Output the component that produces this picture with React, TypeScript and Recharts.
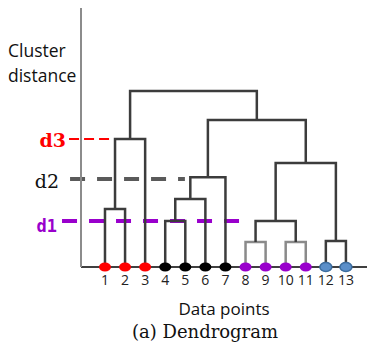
import React from 'react';
import { ComposedChart, Line, Scatter, XAxis, YAxis, ReferenceLine } from 'recharts';

// leaves of the dendrogram, left to right
const leafLabels = ['1', '2', '3', '4', '5', '6', '7', '8', '9', '10', '11', '12', '13'];
const leafCluster = [0, 0, 0, 1, 1, 1, 1, 2, 2, 2, 2, 3, 3];

// linkage rows: [left node, right node, merge distance]
// leaves are nodes 1..13, each row creates node 14, 15, ...
const linkage: [number, number, number][] = [
  [1, 2, 2.24],
  [4, 5, 1.78],
  [8, 9, 0.97],
  [10, 11, 0.97],
  [12, 13, 1.0],
  [15, 6, 2.63],
  [16, 17, 1.78],
  [14, 3, 4.94],
  [19, 7, 3.47],
  [20, 18, 4.02],
  [22, 23, 5.68],
  [21, 24, 6.8],
];

const thresholdNames = ['d1', 'd2', 'd3'];
const thresholdValues = [1.78, 3.4, 4.94];

const clusterColors = ['#ff0000', '#000000', '#9900cc', '#5b8fc9'];
const lightLinks = [16, 17];

const thresholdStyles = [
  { color: '#9900cc', width: 4, dash: '15 12', from: -1.14, to: 7.7, font: '"DejaVu Sans Mono", monospace', weight: 700, size: 17, dx: -5, dy: 11, fill: '#9900cc' },
  { color: '#5a5a5a', width: 4, dash: '15 12', from: -0.74, to: 4.98, font: '"DejaVu Serif", serif', weight: 400, size: 19, dx: -11, dy: 9, fill: '#111' },
  { color: '#ff0000', width: 2, dash: '10 5', from: -0.79, to: 1.45, font: '"DejaVu Serif", serif', weight: 700, size: 19, dx: -3, dy: 8, fill: '#ff0000' },
];

const nodeX: Record<number, number> = {};
const nodeH: Record<number, number> = {};
leafLabels.forEach((_, i) => {
  nodeX[i + 1] = i + 1;
  nodeH[i + 1] = 0;
});
const links = linkage.map(([a, b, h], i) => {
  const id = leafLabels.length + 1 + i;
  nodeX[id] = (nodeX[a] + nodeX[b]) / 2;
  nodeH[id] = h;
  return {
    id,
    points: [
      { x: nodeX[a], y: nodeH[a] },
      { x: nodeX[a], y: h },
      { x: nodeX[b], y: h },
      { x: nodeX[b], y: nodeH[b] },
    ],
  };
});

const leaves = leafLabels.map((_, i) => ({ x: i + 1, y: 0, cluster: leafCluster[i] }));

const LeafDot = (props: any) => {
  const { cx, cy, payload } = props;
  const c = clusterColors[payload.cluster];
  return (
    <ellipse
      cx={cx}
      cy={cy}
      rx={6}
      ry={4.5}
      fill={c}
      stroke={payload.cluster === 3 ? '#3d6d9e' : c}
      strokeWidth={payload.cluster === 3 ? 1.5 : 0}
    />
  );
};

const App = () => {
  return (
    <div style={{ position: 'absolute', left: 0, top: 0, width: 367, height: 345, background: '#fff' }}>
      <ComposedChart width={367} height={345} margin={{ top: 8, right: 0, bottom: 28, left: 21 }}>
        <XAxis
          dataKey="x"
          type="number"
          domain={[-0.195, 14.05]}
          ticks={leafLabels.map((_, i) => i + 1)}
          tickFormatter={(v) => leafLabels[v - 1]}
          interval={0}
          height={50}
          tickLine={false}
          axisLine={{ stroke: '#404040', strokeWidth: 2 }}
          tick={{ fontSize: 14, fill: '#222', fontFamily: '"Open Sans", sans-serif' }}
          label={{ value: 'Data points', position: 'insideBottom', offset: 2, fontSize: 17, fill: '#111', fontFamily: '"Open Sans", sans-serif' }}
        />
        <YAxis
          type="number"
          domain={[0, 10]}
          width={60}
          tick={false}
          tickLine={false}
          axisLine={{ stroke: '#8c8c8c', strokeWidth: 2 }}
        />
        {thresholdValues.map((v, i) => {
          const s = thresholdStyles[i];
          return (
            <ReferenceLine
              key={thresholdNames[i]}
              segment={[{ x: s.from, y: v }, { x: s.to, y: v }]}
              stroke={s.color}
              strokeWidth={s.width}
              strokeDasharray={s.dash}
              ifOverflow="visible"
              label={(p: any) => (
                <text
                  x={p.viewBox.x + s.dx}
                  y={p.viewBox.y + s.dy}
                  textAnchor="end"
                  fontFamily={s.font}
                  fontWeight={s.weight}
                  fontSize={s.size}
                  fill={s.fill}
                >
                  {thresholdNames[i]}
                </text>
              )}
            />
          );
        })}
        {links.map((l) => (
          <Line
            key={l.id}
            data={l.points}
            dataKey="y"
            type="linear"
            stroke={lightLinks.includes(l.id) ? '#8a8a8a' : '#3c3c3c'}
            strokeWidth={2.5}
            dot={false}
            activeDot={false}
            isAnimationActive={false}
          />
        ))}
        <Scatter data={leaves} dataKey="y" shape={LeafDot} isAnimationActive={false} />
      </ComposedChart>
      <svg width={367} height={345} style={{ position: 'absolute', left: 0, top: 0, pointerEvents: 'none' }}>
        <text x={8} y={57} fontSize={17.5} fill="#111" fontFamily='"Open Sans", sans-serif'>Cluster</text>
        <text x={8} y={82} fontSize={17.5} fill="#111" fontFamily='"Open Sans", sans-serif'>distance</text>
        <text x={205} y={338} fontSize={18} fill="#111" textAnchor="middle" fontFamily='"DejaVu Serif", serif'>(a) Dendrogram</text>
      </svg>
    </div>
  );
};

export default App;
